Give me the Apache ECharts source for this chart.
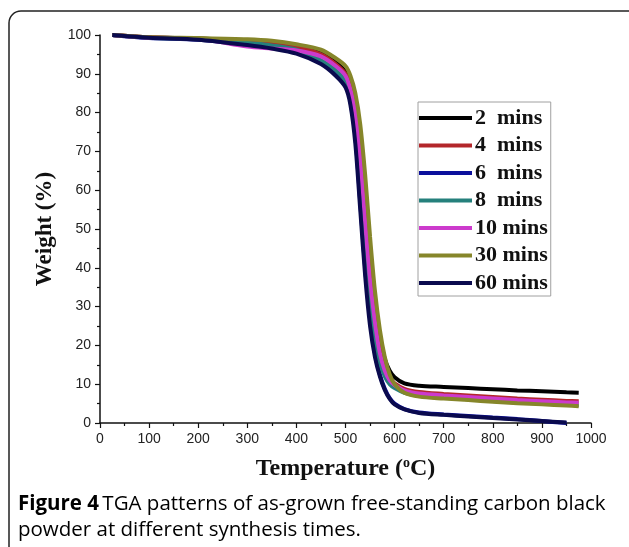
<!DOCTYPE html>
<html>
<head>
<meta charset="utf-8">
<script src="https://cdn.jsdelivr.net/npm/echarts@6/dist/echarts.min.js"></script>
<style>
  html, body { margin: 0; padding: 0; background: #fff; }
  #main { width: 629px; height: 547px; }
</style>
</head>
<body>
<div id="main"></div>
<script>
// temperature (°C) sampled along the curves
const temps = [25, 100, 200, 300, 350, 400, 450, 480, 500, 510, 520, 530, 540, 550, 560, 570, 580, 590, 600, 620, 650, 700, 750, 800, 850, 900, 950, 975]

// weight (%) per synthesis time
const w2 = [100, 99.4, 99.1, 98.5, 98, 97.2, 95.5, 93, 90.5, 87.5, 82, 72, 57, 42, 30, 22, 16.5, 13.5, 11.8, 10.2, 9.6, 9.3, 9.0, 8.7, 8.4, 8.2, 7.9, 7.8]
const w4 = [100, 99.4, 99.1, 98.3, 97.8, 97, 95, 92.5, 90, 87, 81, 70, 55, 40, 28, 20, 14.5, 11.5, 10.2, 8.8, 8.0, 7.5, 7.1, 6.7, 6.3, 6.0, 5.7, 5.6]
const w6 = [100, 99.2, 98.8, 97.6, 96.8, 95.6, 93, 90, 87.5, 83, 74, 57, 40, 27, 18, 12.5, 8.8, 6.4, 5, 3.6, 2.7, 2.2, 1.8, 1.4, 1.0, 0.5, 0, null]
const w8 = [100, 99.3, 99, 98, 97.3, 96.2, 93.5, 91, 88, 84, 76, 62, 46, 32, 22, 15.5, 12, 10, 9, 7.8, 7.0, 6.5, 6.1, 5.7, 5.3, 5.0, 4.7, 4.6]
const w10 = [100, 99.3, 99, 97, 96.5, 96, 94.5, 92, 89.5, 86, 80, 68, 52, 37, 26, 18, 13.5, 11, 9.8, 8.4, 7.6, 7.1, 6.7, 6.3, 5.9, 5.6, 5.3, 5.2]
const w30 = [100, 99.4, 99.2, 98.9, 98.5, 97.6, 96.2, 94, 92, 89.5, 85, 77, 64, 48, 34, 24, 17, 12.5, 10, 7.8, 6.8, 6.3, 5.9, 5.5, 5.1, 4.8, 4.5, 4.3]
const w60 = [100, 99.3, 98.8, 97.4, 96.5, 95.2, 92.5, 89.5, 86.5, 82, 72, 55, 38, 25, 17, 12, 8.5, 6.2, 4.8, 3.5, 2.6, 2.1, 1.7, 1.3, 0.9, 0.5, 0.1, null]

const names = ['2  mins', '4  mins', '6  mins', '8  mins', '10 mins', '30 mins', '60 mins']
const colors = ['#000000', '#b3262a', '#0b0f9c', '#25807c', '#cc3acc', '#86862a', '#0a0a4e']
const weights = [w2, w4, w6, w8, w10, w30, w60]

const chart = echarts.init(document.getElementById('main'))

const series = names.map((n, i) => ({
  name: n,
  type: 'line',
  data: temps.map((t, j) => [t, weights[i][j]]),
  showSymbol: false,
  symbol: 'none',
  smooth: 0.3,
  connectNulls: false,
  lineStyle: { color: colors[i], width: 4 },
  itemStyle: { color: colors[i] }
}))

const option = {
  animation: false,
  backgroundColor: '#fff',
  grid: { left: 100, right: 38, top: 35, bottom: 124 },
  legend: {
    orient: 'vertical',
    left: 418,
    top: 102,
    icon: 'rect',
    itemWidth: 53,
    itemHeight: 4,
    itemGap: 3.5,
    padding: [4, 3, 1, 1],
    borderColor: '#a0a0a0',
    borderWidth: 1,
    textStyle: {
      fontFamily: 'Liberation Serif',
      fontWeight: 'bold',
      fontSize: 22,
      lineHeight: 24,
      color: '#111',
      padding: [0, 0, 0, -2]
    },
    data: names
  },
  xAxis: {
    type: 'value',
    min: 0,
    max: 1000,
    interval: 100,
    name: '{a|Temperature (}{s|o}{a|C)}',
    nameLocation: 'middle',
    nameGap: 33,
    nameTextStyle: {
      rich: {
        a: { fontFamily: 'Liberation Serif', fontWeight: 'bold', fontSize: 24, color: '#111' },
        s: { fontFamily: 'Liberation Serif', fontWeight: 'bold', fontSize: 14, color: '#111', verticalAlign: 'top', padding: [0, 0, 12, 0] }
      }
    },
    axisLine: { lineStyle: { color: '#111', width: 1.5 } },
    axisTick: { inside: false, length: 5, lineStyle: { color: '#111', width: 1.2 } },
    minorTick: { show: true, splitNumber: 2, length: 3, lineStyle: { color: '#111', width: 1.2 } },
    splitLine: { show: false },
    axisLabel: { fontFamily: 'Liberation Sans', fontSize: 14, color: '#222', margin: 9, formatter: v => String(v) }
  },
  yAxis: {
    type: 'value',
    min: 0,
    max: 100,
    interval: 10,
    name: 'Weight (%)',
    nameLocation: 'middle',
    nameGap: 42,
    nameTextStyle: { fontFamily: 'Liberation Serif', fontWeight: 'bold', fontSize: 23, color: '#111' },
    axisLine: { show: true, lineStyle: { color: '#111', width: 1.5 } },
    axisTick: { show: true, inside: false, length: 5, lineStyle: { color: '#111', width: 1.2 } },
    minorTick: { show: true, splitNumber: 2, length: 3, lineStyle: { color: '#111', width: 1.2 } },
    splitLine: { show: false },
    axisLabel: { fontFamily: 'Liberation Sans', fontSize: 14, color: '#222', margin: 9 }
  },
  graphic: [
    {
      type: 'rect',
      shape: { x: 9, y: 11, width: 640, height: 620, r: 12 },
      style: { fill: 'none', stroke: '#222', lineWidth: 1.5 },
      silent: true
    },
    {
      type: 'text',
      left: 18,
      top: 494,
      style: {
        text: '{b|Figure 4} {r|TGA patterns of as-grown free-standing carbon black}\n{r|powder at different synthesis times.}',
        rich: {
          b: { fontFamily: 'Open Sans', fontWeight: 'bold', fontSize: 20.5, color: '#231f20', lineHeight: 26 },
          r: { fontFamily: 'Open Sans', fontSize: 20.5, color: '#231f20', lineHeight: 26 }
        }
      }
    }
  ],
  series: series
}

chart.setOption(option)
window.addEventListener('resize', function () {
  chart.resize()
})
</script>
</body>
</html>
